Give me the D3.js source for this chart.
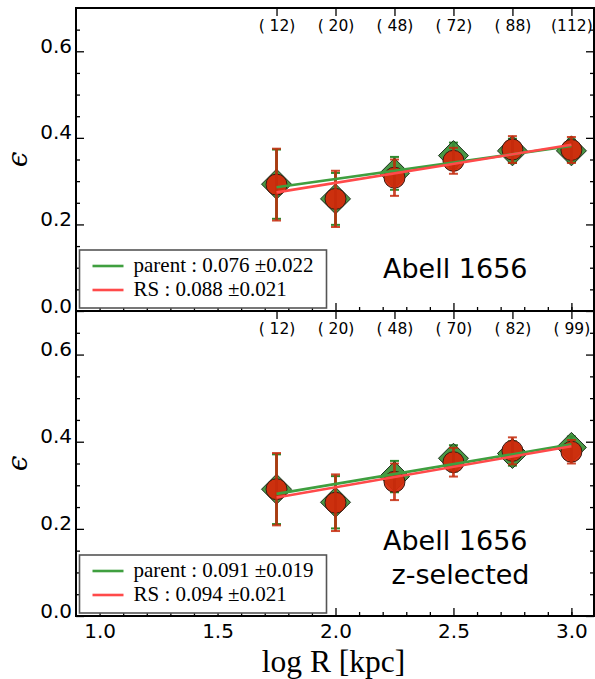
<!DOCTYPE html>
<html><head><meta charset="utf-8">
<script src="https://cdn.jsdelivr.net/npm/d3@7"></script>
<style>
body{margin:0;background:#fff;}
svg{display:block;}
text{white-space:pre;}
</style></head>
<body>
<svg id="c" width="595" height="679"></svg>
<script>
// ---- data ----
const logR = [1.75, 2.0, 2.25, 2.5, 2.75, 3.0];
const countsTop = [12, 20, 48, 72, 88, 112];
const countsBottom = [12, 20, 48, 70, 82, 99];

const parentTop    = [0.293, 0.259, 0.318, 0.359, 0.370, 0.370];
const parentTopErr = [0.080, 0.060, 0.038, 0.030, 0.028, 0.026];
const rsTop        = [0.292, 0.259, 0.308, 0.347, 0.373, 0.372];
const rsTopErr     = [0.083, 0.065, 0.042, 0.030, 0.031, 0.030];

const parentBot    = [0.291, 0.261, 0.320, 0.362, 0.373, 0.387];
const parentBotErr = [0.080, 0.060, 0.036, 0.030, 0.028, 0.025];
const rsBot        = [0.291, 0.260, 0.308, 0.353, 0.379, 0.377];
const rsBotErr     = [0.083, 0.065, 0.042, 0.033, 0.031, 0.027];

// linear fits: slope, slope error, intercept
const fitSlopeTop = [0.076, 0.088];
const fitErrTop   = [0.022, 0.021];
const fitIntTop   = [0.153, 0.120];
const fitSlopeBot = [0.091, 0.094];
const fitErrBot   = [0.019, 0.021];
const fitIntBot   = [0.121, 0.1075];

const seriesNames = ["parent", "RS"];
const yMajor = [0.0, 0.2, 0.4, 0.6];
const yMinor = [0.05, 0.1, 0.15, 0.25, 0.3, 0.35, 0.45, 0.5, 0.55, 0.65];
const xMajor = [1.0, 1.5, 2.0, 2.5, 3.0];
const xMinor = [1.1, 1.2, 1.3, 1.4, 1.6, 1.7, 1.8, 1.9, 2.1, 2.2, 2.3, 2.4, 2.6, 2.7, 2.8, 2.9, 3.0];
const panelTitles = [["Abell 1656"], ["Abell 1656", " z-selected"]];

// ---- layout ----
const svg = d3.select("#c");
const L = 76, R = 595;
const panels = [
  {top: 8, bottom: 311, counts: countsTop, p: parentTop, pe: parentTopErr, r: rsTop, re: rsTopErr,
   slope: fitSlopeTop, serr: fitErrTop, inter: fitIntTop, title: panelTitles[0], xlabels: false},
  {top: 311, bottom: 616, counts: countsBottom, p: parentBot, pe: parentBotErr, r: rsBot, re: rsBotErr,
   slope: fitSlopeBot, serr: fitErrBot, inter: fitIntBot, title: panelTitles[1], xlabels: true}
];

const x = d3.scaleLinear().domain([0.9, 3.1]).range([L, R]);
const GREEN = "#3f9f3f", RED = "#ff4a4a";
const fmt3 = d3.format(".3f");

panels.forEach((P, pi) => {
  const y = d3.scaleLinear().domain([0, 0.7]).range([P.bottom, P.top]);
  const g = svg.append("g");

  const styleAxis = (sel) => {
    sel.select(".domain").remove();
    sel.selectAll(".tick line").attr("stroke", "#000").attr("stroke-width", 1.3);
  };
  // left
  g.append("g").attr("transform", `translate(${L},0)`)
    .call(d3.axisLeft(y).tickValues(yMajor).tickSize(-8).tickPadding(4).tickFormat(d3.format(".1f")))
    .call(styleAxis)
    .call(s => s.selectAll("text").attr("dy", "0.05em").attr("x", -4)
      .attr("font-family", "DejaVu Sans").attr("font-size", 20).attr("fill", "#000"));
  g.append("g").attr("transform", `translate(${L},0)`)
    .call(d3.axisLeft(y).tickValues(yMinor).tickSize(-4).tickFormat(""))
    .call(styleAxis);
  // right
  g.append("g").attr("transform", `translate(${R - 1},0)`)
    .call(d3.axisRight(y).tickValues(yMajor).tickSize(-8).tickFormat(""))
    .call(styleAxis);
  g.append("g").attr("transform", `translate(${R - 1},0)`)
    .call(d3.axisRight(y).tickValues(yMinor).tickSize(-4).tickFormat(""))
    .call(styleAxis);
  // bottom
  g.append("g").attr("transform", `translate(0,${P.bottom})`)
    .call(d3.axisBottom(x).tickValues(xMajor).tickSize(-8).tickFormat(P.xlabels ? d3.format(".1f") : ""))
    .call(styleAxis)
    .call(s => s.selectAll("text").attr("y", 22).attr("dy", 0)
      .attr("font-family", "DejaVu Sans").attr("font-size", 20).attr("fill", "#000"));
  g.append("g").attr("transform", `translate(0,${P.bottom})`)
    .call(d3.axisBottom(x).tickValues(xMinor).tickSize(-4).tickFormat(""))
    .call(styleAxis);
  // top with counts
  g.append("g").attr("transform", `translate(0,${P.top})`)
    .call(d3.axisTop(x).tickValues(logR).tickSize(-8)
      .tickFormat((d, i) => "(" + String(P.counts[i]).padStart(3, " ") + ")"))
    .call(styleAxis)
    .call(s => s.selectAll("text").attr("y", 23).attr("dy", 0)
      .attr("font-family", "DejaVu Sans").attr("font-size", 15.5).attr("fill", "#000"));

  // frame
  g.append("rect").attr("x", L).attr("y", P.top).attr("width", R - 1 - L).attr("height", P.bottom - P.top)
    .attr("fill", "none").attr("stroke", "#000").attr("stroke-width", 2);

  const cap = 4.5;
  const errbar = (vals, errs, color) => {
    const eg = g.append("g").attr("stroke", color).attr("stroke-width", 2.8);
    logR.forEach((lx, i) => {
      const cx = x(lx), y1 = y(vals[i] + errs[i]), y2 = y(vals[i] - errs[i]);
      eg.append("line").attr("x1", cx).attr("x2", cx).attr("y1", y1).attr("y2", y2);
      eg.append("line").attr("x1", cx - cap).attr("x2", cx + cap).attr("y1", y1).attr("y2", y1).attr("stroke-width", 2);
      eg.append("line").attr("x1", cx - cap).attr("x2", cx + cap).attr("y1", y2).attr("y2", y2).attr("stroke-width", 2);
    });
  };

  // parent: green diamonds
  errbar(P.p, P.pe, "#2f8a2f");
  const dsz = 15;
  g.selectAll(".dia").data(logR).enter().append("path")
    .attr("d", (d, i) => {
      const cx = x(d), cy = y(P.p[i]);
      return `M${cx},${cy - dsz}L${cx + dsz},${cy}L${cx},${cy + dsz}L${cx - dsz},${cy}Z`;
    })
    .attr("fill", "#3a8f35").attr("fill-opacity", 0.92).attr("stroke", "#1d2f1d").attr("stroke-width", 1);

  // RS: red circles
  g.selectAll(".circ").data(logR).enter().append("circle")
    .attr("cx", d => x(d)).attr("cy", (d, i) => y(P.r[i])).attr("r", 10.5)
    .attr("fill", "#d42a0c").attr("fill-opacity", 0.95).attr("stroke", "#3a1a12").attr("stroke-width", 1);
  errbar(P.r, P.re, "rgba(196,42,12,0.85)");

  // fits
  const xs = [logR[0], logR[logR.length - 1]];
  [GREEN, RED].forEach((col, k) => {
    g.append("line")
      .attr("x1", x(xs[0])).attr("y1", y(P.inter[k] + P.slope[k] * xs[0]))
      .attr("x2", x(xs[1])).attr("y2", y(P.inter[k] + P.slope[k] * xs[1]))
      .attr("stroke", col).attr("stroke-width", 2.6);
  });

  // legend
  const lx = L + 3.5, lw = 247, lh = 58, ly = P.bottom - 3 - lh;
  const lg = g.append("g");
  lg.append("rect").attr("x", lx).attr("y", ly).attr("width", lw).attr("height", lh)
    .attr("fill", "#fff").attr("stroke", "#555").attr("stroke-width", 1.6);
  [GREEN, RED].forEach((col, k) => {
    const yy = ly + 16 + k * 24;
    lg.append("line").attr("x1", lx + 13).attr("x2", lx + 44).attr("y1", yy).attr("y2", yy)
      .attr("stroke", col).attr("stroke-width", 2.6);
    lg.append("text").attr("x", lx + 54).attr("y", yy + 6)
      .attr("font-family", "Liberation Serif").attr("font-size", 21).attr("fill", "#000")
      .text(`${seriesNames[k]} : ${fmt3(P.slope[k])} ±${fmt3(P.serr[k])}`);
  });

  // panel title
  const tg = g.append("text").attr("font-family", "DejaVu Sans").attr("font-size", 27).attr("fill", "#000");
  const baseY = pi === 0 ? 278 : 550;
  P.title.forEach((t, k) => {
    tg.append("tspan").attr("x", 383).attr("y", baseY + k * 34).text(t);
  });

  // y label
  svg.append("text").attr("transform", `translate(27,${(P.top + P.bottom) / 2}) rotate(-90)`)
    .attr("text-anchor", "middle").attr("font-family", "DejaVu Serif").attr("font-style", "italic")
    .attr("font-size", 28).attr("fill", "#000").text("ϵ");
});

// x label
svg.append("text").attr("x", (L + R) / 2 - 2).attr("y", 672).attr("text-anchor", "middle")
  .attr("font-family", "Liberation Serif").attr("font-size", 31.5).attr("fill", "#000")
  .text("log R [kpc]");
</script>
</body></html>
